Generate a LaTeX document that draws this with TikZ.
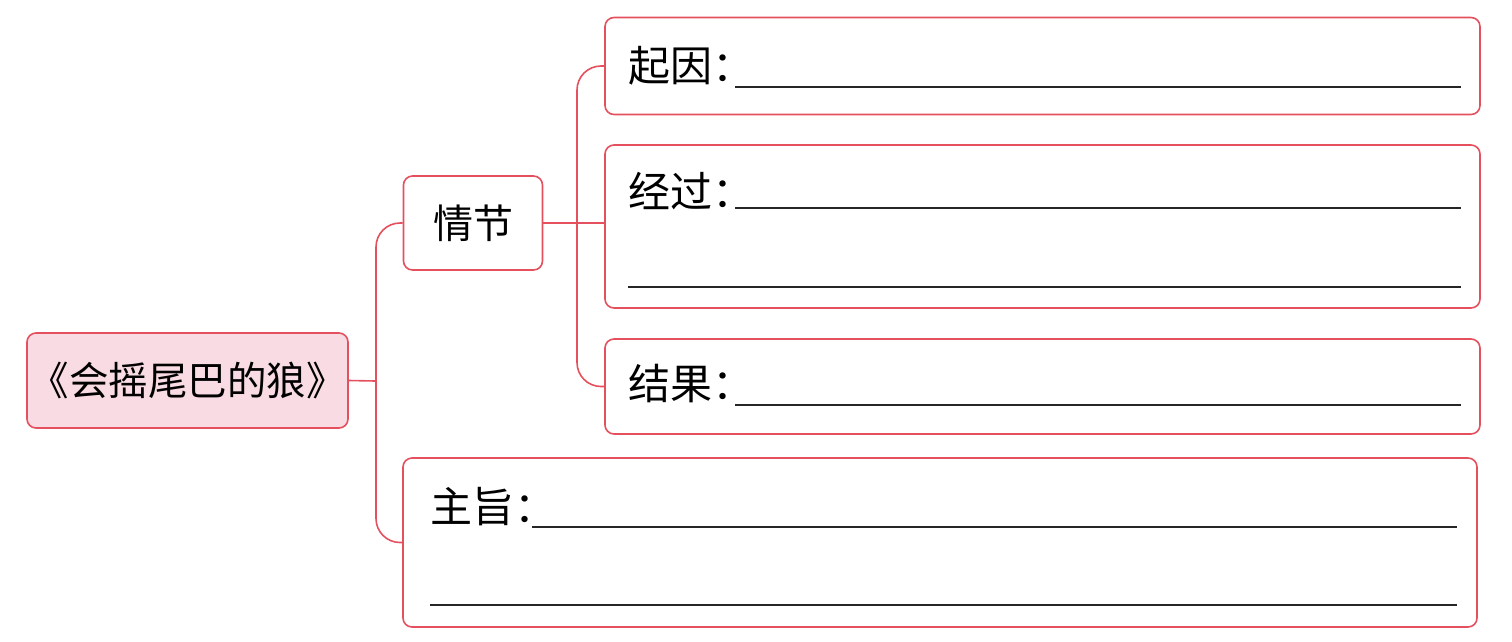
\documentclass[tikz,border=0pt]{standalone}
\usepackage{fontspec}
\newfontfamily\cjk{Noto Sans CJK SC}
\definecolor{mmred}{HTML}{E5505E}
\definecolor{mmpink}{HTML}{F9DCE3}
\tikzset{
  box/.style={draw=mmred, line width=1.6pt, rounded corners=9pt, fill=white, inner sep=0pt},
  rootbox/.style={box, fill=mmpink, font=\cjk\fontsize{39.5}{40}\selectfont},
  midbox/.style={box, font=\cjk\fontsize{40}{40}\selectfont},
  conn/.style={draw=mmred, line width=1.6pt, rounded corners=24pt},
  lbl/.style={anchor=west, inner sep=0pt, font=\cjk\fontsize{42}{42}\selectfont},
  blank/.style={line width=1.3pt, black!85}
}
\begin{document}
\begin{tikzpicture}[x=1pt,y=-1pt]
\useasboundingbox (0,0) rectangle (1512,641);
% boxes
\node[rootbox, minimum width=321pt, minimum height=95pt] (root) at (187.5,380.5) {《会摇尾巴的狼》};
\node[midbox, minimum width=139pt, minimum height=94pt] (qj) at (473,223) {情节};
\node[box, minimum width=875pt, minimum height=97pt] (qy) at (1042.5,66) {};
\node[box, minimum width=875pt, minimum height=163pt] (jg) at (1042.5,226.5) {};
\node[box, minimum width=875pt, minimum height=95pt] (jgu) at (1042.5,386.5) {};
\node[box, minimum width=1074pt, minimum height=169pt] (zz) at (940,542.5) {};
% connectors
\coordinate (j1) at (376,381);
\coordinate (j2) at (577,223);
\draw[conn] (root.east) -- (j1);
\draw[conn] (qj.west) -| (j1) |- (zz.west);
\draw[conn] (qj.east) -- (qj.east -| jg.west);
\draw[conn] (qy.west) -| (j2) |- (jgu.west);
% labels
\node[lbl] (t1) at (628,66) {起因：};
\node[lbl] (t2) at (628,191) {经过：};
\node[lbl] (t3) at (628,384) {结果：};
\node[lbl] (t4) at (430,507) {主旨：};
% blanks
\coordinate (a1) at (735,87);   \coordinate (a2) at (1461,87);
\coordinate (b1) at (735,208);  \coordinate (b2) at (1461,208);
\coordinate (b3) at (628,287);  \coordinate (b4) at (1461,287);
\coordinate (c1) at (735,405);  \coordinate (c2) at (1461,405);
\coordinate (d1) at (532,527);  \coordinate (d2) at (1457,527);
\coordinate (d3) at (430,605);  \coordinate (d4) at (1457,605);
\draw[blank] (a1) -- (a2);
\draw[blank] (b1) -- (b2);
\draw[blank] (b3) -- (b4);
\draw[blank] (c1) -- (c2);
\draw[blank] (d1) -- (d2);
\draw[blank] (d3) -- (d4);
\end{tikzpicture}
\end{document}
